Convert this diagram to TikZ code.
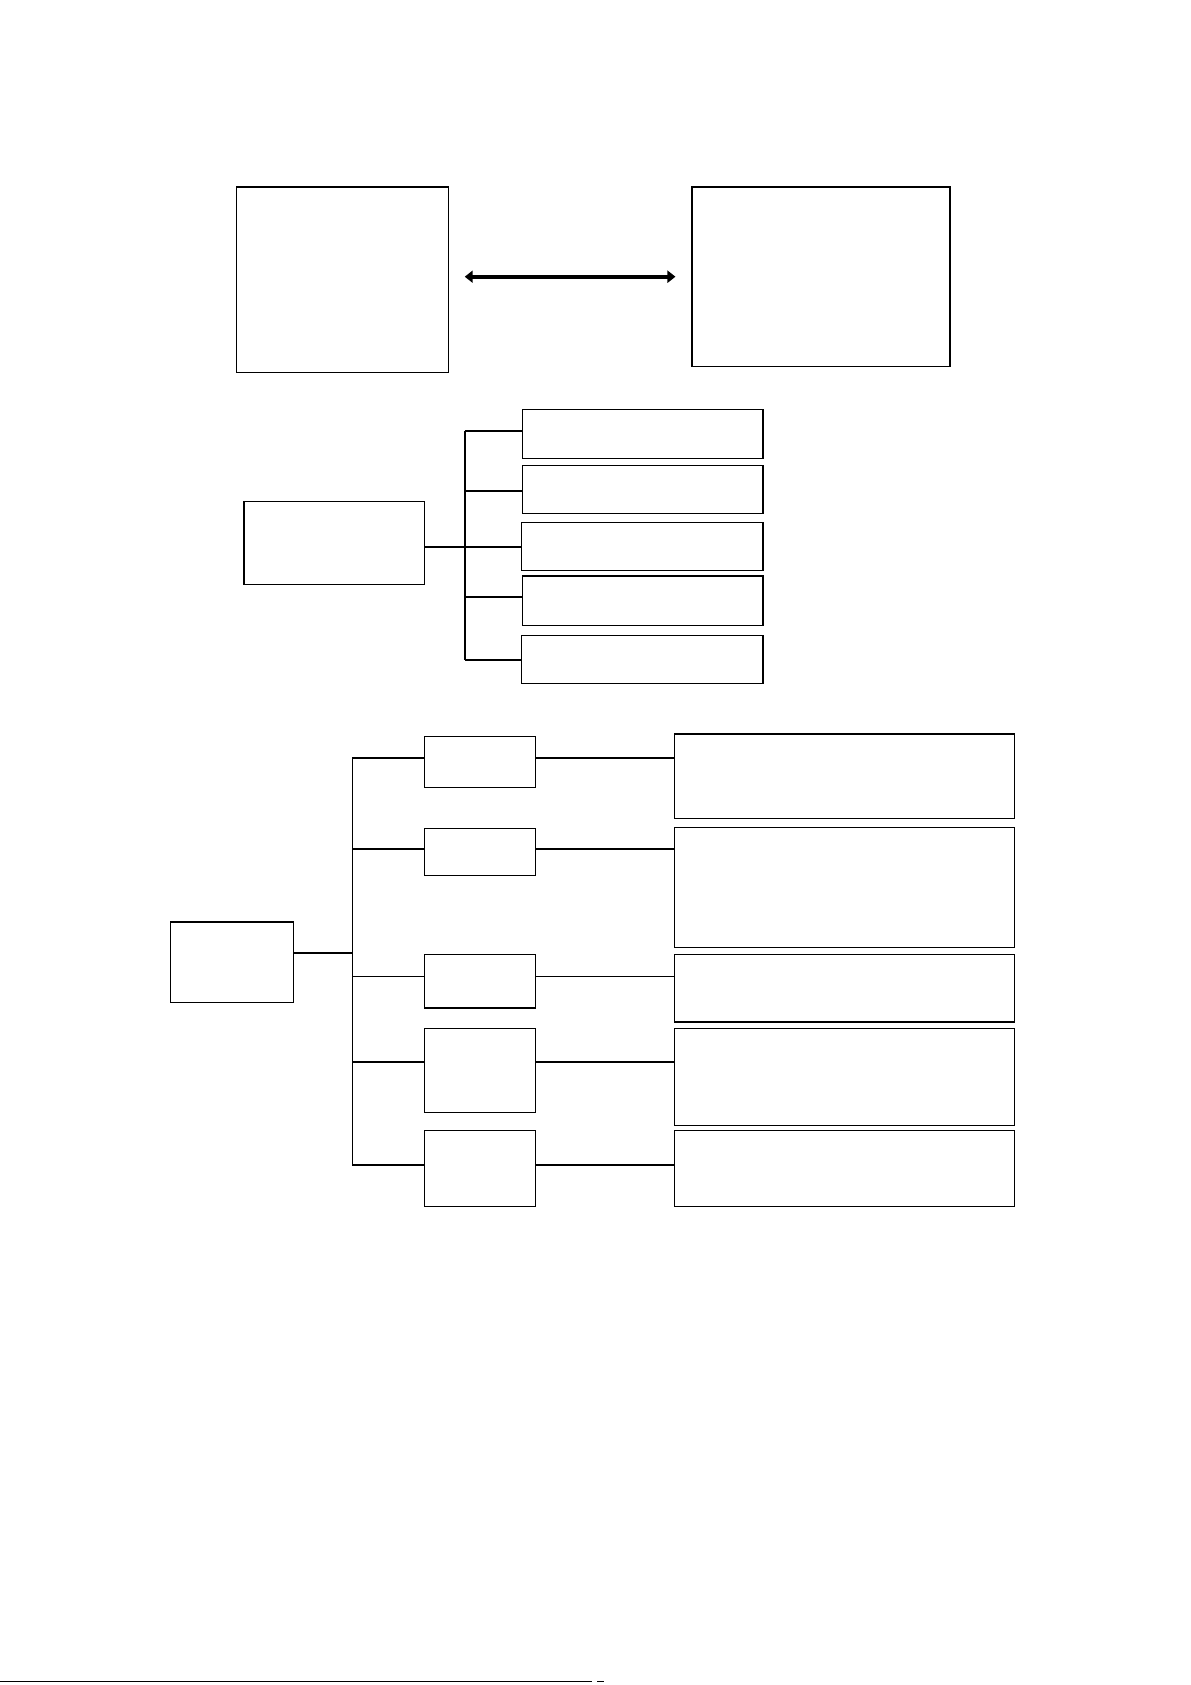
\documentclass[tikz,border=0pt]{standalone}
\usetikzlibrary{fit,arrows.meta}
\begin{document}
\begin{tikzpicture}[x=1.0749pt,y=-1.0749pt,
  box/.style={draw,line width=1.2pt,inner sep=0pt},
  conn/.style={line width=2pt},
  thinconn/.style={line width=1.1pt},
  arr/.style={line width=4pt,{Triangle[length=8pt,width=12pt]}-{Triangle[length=8pt,width=12pt]}}]
\useasboundingbox[fill=white] (0,0) rectangle (1108,1568);
% top
\node[box,fit={(220,174) (417,347)}] (tl) {};
\node[box,fit={(644,174) (884,341)}] (tr) {};
\draw[arr,shorten <=16pt,shorten >=16pt] (tl.east |- tr.west) -- (tr.west);
% middle
\node[box,fit={(227,467) (395,544)}] (m0) {};
\node[box,fit={(486,381) (710,427)}] (m1) {};
\node[box,fit={(486,433) (710,478)}] (m2) {};
\node[box,fit={(485,486) (710,531)}] (m3) {};
\node[box,fit={(486,536) (710,582)}] (m4) {};
\node[box,fit={(485,591) (710,636)}] (m5) {};
\coordinate (busM) at (433,509);
\coordinate (i1) at (433,401);
\coordinate (i2) at (433,457);
\coordinate (i4) at (433,556);
\coordinate (i5) at (433,614);
\draw[conn] (m0.east |- busM) -- (busM);
\draw[conn] (i1) -- (i5);
\draw[conn] (i1) -- (m1.west |- i1);
\draw[conn] (i2) -- (m2.west |- i2);
\draw[conn] (busM) -- (m3.west |- busM);
\draw[conn] (i4) -- (m4.west |- i4);
\draw[conn] (i5) -- (m5.west |- i5);
% bottom
\node[box,fit={(159,858) (273,933)}] (r0) {};
\node[box,fit={(395,685) (498,733)}] (b1) {};
\node[box,fit={(395,771) (498,815)}] (b2) {};
\node[box,fit={(395,888) (498,938)}] (b3) {};
\node[box,fit={(395,957) (498,1035)}] (b4) {};
\node[box,fit={(395,1052) (498,1123)}] (b5) {};
\node[box,fit={(628,683) (944,762)}] (c1) {};
\node[box,fit={(628,770) (944,882)}] (c2) {};
\node[box,fit={(628,888) (944,951)}] (c3) {};
\node[box,fit={(628,957) (944,1047)}] (c4) {};
\node[box,fit={(628,1052) (944,1123)}] (c5) {};
\coordinate (busB) at (328,887);
\coordinate (j1) at (328,705);
\coordinate (j2) at (328,790);
\coordinate (j3) at (328,909);
\coordinate (j4) at (328,988);
\coordinate (j5) at (328,1084);
\draw[conn] (r0.east |- busB) -- (busB);
\draw[thinconn] (j1) -- (j5);
\draw[conn] (j1) -- (b1.west |- j1);
\draw[conn] (b1.east |- j1) -- (c1.west |- j1);
\draw[conn] (j2) -- (b2.west |- j2);
\draw[conn] (b2.east |- j2) -- (c2.west |- j2);
\draw[thinconn] (j3) -- (b3.west |- j3);
\draw[thinconn] (b3.east |- j3) -- (c3.west |- j3);
\draw[conn] (j4) -- (b4.west |- j4);
\draw[conn] (b4.east |- j4) -- (c4.west |- j4);
\draw[conn] (j5) -- (b5.west |- j5);
\draw[conn] (b5.east |- j5) -- (c5.west |- j5);
% page rule at bottom
\coordinate (f0) at (0,1565);
\coordinate (f1) at (551,1565);
\draw[line width=1.3pt] (f0) -- (f1);
\coordinate (g0) at (556,1565);
\coordinate (g1) at (562,1565);
\draw[line width=1pt] (g0) -- (g1);
\end{tikzpicture}
\end{document}
